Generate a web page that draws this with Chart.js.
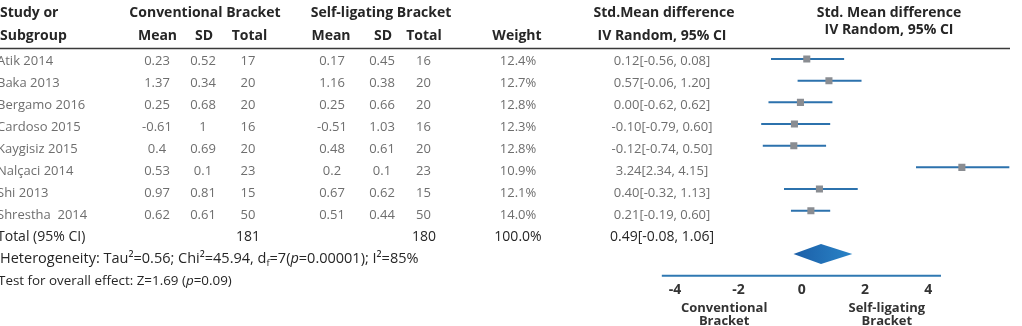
<!DOCTYPE html>
<html>
<head>
<meta charset="utf-8">
<script src="https://cdn.jsdelivr.net/npm/chart.js@4.4.1/dist/chart.umd.min.js"></script>
<style>
  html, body { margin: 0; padding: 0; background: #fff; }
  #wrap { width: 1022px; height: 326px; position: relative; }
</style>
</head>
<body>
<div id="wrap"><canvas id="forest"></canvas></div>
<script>
// table data
const studies = ['Atik 2014', 'Baka 2013', 'Bergamo 2016', 'Cardoso 2015', 'Kaygisiz 2015', 'Nalçaci 2014', 'Shi 2013', 'Shrestha  2014'];
const convMean = [0.23, 1.37, 0.25, -0.61, 0.4, 0.53, 0.97, 0.62];
const convSD = [0.52, 0.34, 0.68, 1, 0.69, 0.1, 0.81, 0.61];
const convN = [17, 20, 20, 16, 20, 23, 15, 50];
const selfMean = [0.17, 1.16, 0.25, -0.51, 0.48, 0.2, 0.67, 0.51];
const selfSD = [0.45, 0.38, 0.66, 1.03, 0.61, 0.1, 0.62, 0.44];
const selfN = [16, 20, 20, 16, 20, 23, 15, 50];
const weights = [12.4, 12.7, 12.8, 12.3, 12.8, 10.9, 12.1, 14.0];
const smdEst = [0.12, 0.57, 0.00, -0.10, -0.12, 3.24, 0.40, 0.21];
const smdLo = [-0.56, -0.06, -0.62, -0.79, -0.74, 2.34, -0.32, -0.19];
const smdHi = [0.08, 1.20, 0.62, 0.60, 0.50, 4.15, 1.13, 0.60];
const totalConv = 181;
const totalSelf = 180;
const totalWeight = 100.0;
const totalSmd = [0.49, -0.08, 1.06];

// positions of the marks as drawn in the plot (axis units)
const plotPoint = [0.16, 0.86, -0.04, -0.23, -0.25, 5.06, 0.56, 0.29];
const plotLo = [-0.97, -0.13, -1.05, -1.28, -1.23, 3.61, -0.56, -0.34];
const plotHi = [1.34, 1.89, 0.97, 0.90, 0.77, 6.56, 1.77, 0.90];
const diamond = [-0.26, 0.61, 1.60]; // lo, centre, hi
const tickValues = [-4, -2, 0, 2, 4];
const axisRange = [-4.42, 4.40];

const squares = plotPoint.map((v, i) => ({ x: v, y: i }));
const ciLines = [];
plotLo.forEach((lo, i) => {
  ciLines.push({ x: lo, y: i }, { x: plotHi[i], y: i }, { x: null, y: null });
});
const DROW = 9; // row of the pooled diamond
const diamondPts = [
  { x: diamond[0], y: DROW }, { x: diamond[1], y: DROW - 0.46 },
  { x: diamond[2], y: DROW }, { x: diamond[1], y: DROW + 0.46 },
  { x: diamond[0], y: DROW }
];

const BODY = '13px "Open Sans"';
const BOLD = 'bold 14px "Open Sans"';
const GREY = '#6e6e6e';
const DARK = '#262626';

function txt(ctx, s, x, y, align, font, color) {
  ctx.font = font;
  ctx.fillStyle = color;
  ctx.textAlign = align;
  ctx.textBaseline = 'middle';
  ctx.fillText(s, x, y);
}

// draws a line made of runs: normal, italic, subscript
function runs(ctx, parts, x, y, size, color) {
  ctx.fillStyle = color;
  ctx.textAlign = 'left';
  ctx.textBaseline = 'middle';
  parts.forEach(p => {
    ctx.font = p.sub ? (size * 0.65) + 'px "Open Sans"' : (p.it ? 'italic ' : '') + size + 'px "Open Sans"';
    ctx.fillText(p.t, x, y + (p.sub ? 4 : 0));
    x += ctx.measureText(p.t).width;
  });
}

function diamondFill(c) {
  const chart = c.chart;
  const xs = chart.scales.x;
  if (!xs) return '#1e6cb3';
  const x0 = xs.getPixelForValue(diamond[0]);
  const x1 = xs.getPixelForValue(diamond[2]);
  if (!isFinite(x0) || !isFinite(x1) || x0 === x1) return '#1e6cb3';
  const g = chart.ctx.createLinearGradient(x0, 0, x1, 0);
  g.addColorStop(0, '#1b5ea7');
  g.addColorStop(1, '#2a84c7');
  return g;
}

const tablePlugin = {
  id: 'table',
  beforeDatasetsDraw(chart) {
    const ctx = chart.ctx;
    const xs = chart.scales.x;
    const ys = chart.scales.y;
    ctx.save();
    // header rule
    ctx.strokeStyle = '#3a3a3a';
    ctx.lineWidth = 1.5;
    ctx.beginPath();
    ctx.moveTo(0, 48.5);
    ctx.lineTo(1010, 48.5);
    ctx.stroke();
    // axis line
    const ay = ys.getPixelForValue(ys.max);
    ctx.strokeStyle = '#2f78b2';
    ctx.lineWidth = 2;
    ctx.beginPath();
    ctx.moveTo(xs.getPixelForValue(axisRange[0]), ay);
    ctx.lineTo(xs.getPixelForValue(axisRange[1]), ay);
    ctx.stroke();
    ctx.restore();
  },
  afterDraw(chart) {
    const ctx = chart.ctx;
    const xs = chart.scales.x;
    ctx.save();
    // headers
    txt(ctx, 'Study or', 0, 13, 'left', BOLD, DARK);
    txt(ctx, 'Subgroup', 0, 36, 'left', BOLD, DARK);
    txt(ctx, 'Conventional Bracket', 205, 13, 'center', BOLD, DARK);
    txt(ctx, 'Self-ligating Bracket', 381, 13, 'center', BOLD, DARK);
    txt(ctx, 'Std.Mean difference', 664, 13, 'center', BOLD, DARK);
    txt(ctx, 'Std. Mean difference', 889, 13, 'center', BOLD, DARK);
    txt(ctx, 'IV Random, 95% CI', 889, 30, 'center', BOLD, DARK);
    [['Mean', 157.5], ['SD', 204], ['Total', 249.5], ['Mean', 331], ['SD', 383], ['Total', 424],
     ['Weight', 517], ['IV Random, 95% CI', 662]].forEach(h => txt(ctx, h[0], h[1], 36, 'center', BOLD, DARK));

    // study rows
    studies.forEach((s, i) => {
      const y = 61 + 22 * i;
      txt(ctx, s, -3, y, 'left', BODY, GREY);
      txt(ctx, String(convMean[i]), 157, y, 'center', BODY, GREY);
      txt(ctx, String(convSD[i]), 203, y, 'center', BODY, GREY);
      txt(ctx, String(convN[i]), 248, y, 'center', BODY, GREY);
      txt(ctx, String(selfMean[i]), 332, y, 'center', BODY, GREY);
      txt(ctx, String(selfSD[i]), 382, y, 'center', BODY, GREY);
      txt(ctx, String(selfN[i]), 423.5, y, 'center', BODY, GREY);
      txt(ctx, weights[i].toFixed(1) + '%', 518, y, 'center', BODY, GREY);
      txt(ctx, smdEst[i].toFixed(2) + '[' + smdLo[i].toFixed(2) + ', ' + smdHi[i].toFixed(2) + ']', 662, y, 'center', BODY, GREY);
    });

    // total row
    const ty = 61 + 22 * 8;
    const TF = '14px "Open Sans"';
    txt(ctx, 'Total (95% CI)', -3, ty, 'left', TF, DARK);
    txt(ctx, String(totalConv), 248, ty, 'center', TF, DARK);
    txt(ctx, String(totalSelf), 424, ty, 'center', TF, DARK);
    txt(ctx, totalWeight.toFixed(1) + '%', 518, ty, 'center', TF, DARK);
    txt(ctx, totalSmd[0].toFixed(2) + '[' + totalSmd[1].toFixed(2) + ', ' + totalSmd[2].toFixed(2) + ']', 662, ty, 'center', TF, DARK);

    runs(ctx, [
      { t: 'Heterogeneity: Tau²=0.56; Chi²=45.94, d' }, { t: 'f', sub: true },
      { t: '=7(' }, { t: 'p', it: true }, { t: '=0.00001); I²=85%' }
    ], 0, 61 + 22 * 9, 14.5, DARK);
    runs(ctx, [
      { t: 'Test for overall effect: Z=1.69 (' }, { t: 'p', it: true }, { t: '=0.09)' }
    ], -2, 61 + 22 * 10, 13.4, DARK);

    // axis side labels
    const lx = xs.getPixelForValue(-2.45);
    const rx = xs.getPixelForValue(2.69);
    const SF = 'bold 13px "Open Sans"';
    txt(ctx, 'Conventional', lx, 308.5, 'center', SF, '#333');
    txt(ctx, 'Bracket', lx, 321.5, 'center', SF, '#333');
    txt(ctx, 'Self-ligating', rx, 308.5, 'center', SF, '#333');
    txt(ctx, 'Bracket', rx, 321.5, 'center', SF, '#333');
    ctx.restore();
  }
};

new Chart(document.getElementById('forest'), {
  type: 'scatter',
  data: {
    datasets: [
      {
        label: 'Study',
        data: squares,
        pointStyle: 'rect',
        pointRadius: 5,
        pointBackgroundColor: '#8a8d92',
        pointBorderWidth: 0,
        showLine: false
      },
      {
        label: 'CI',
        data: ciLines,
        showLine: true,
        spanGaps: false,
        borderColor: '#2c72ad',
        borderWidth: 2,
        pointRadius: 0
      },
      {
        label: 'Total',
        data: diamondPts,
        showLine: true,
        fill: 'shape',
        backgroundColor: diamondFill,
        borderColor: '#1e6cb3',
        borderWidth: 0,
        pointRadius: 0
      }
    ]
  },
  options: {
    responsive: true,
    maintainAspectRatio: false,
    animation: false,
    events: [],
    // x axis takes label height + 2 * tick padding (16.8 + 12)
    layout: { autoPadding: false, padding: { top: 0, left: 0, right: 0, bottom: 21.5 } },
    plugins: { legend: { display: false }, tooltip: { enabled: false } },
    scales: {
      x: {
        type: 'linear',
        min: -25.33,
        max: 6.96,
        afterBuildTicks: s => { s.ticks = tickValues.map(v => ({ value: v })); },
        grid: { display: false, drawTicks: false, tickLength: 0 },
        border: { display: false },
        ticks: {
          padding: 6,
          color: '#333',
          font: { family: 'Open Sans', size: 14, weight: 'bold' },
          callback: v => String(v)
        }
      },
      y: {
        type: 'linear',
        display: false,
        reverse: true,
        min: -2.723,
        max: 10
      }
    }
  },
  plugins: [tablePlugin]
});
</script>
</body>
</html>
